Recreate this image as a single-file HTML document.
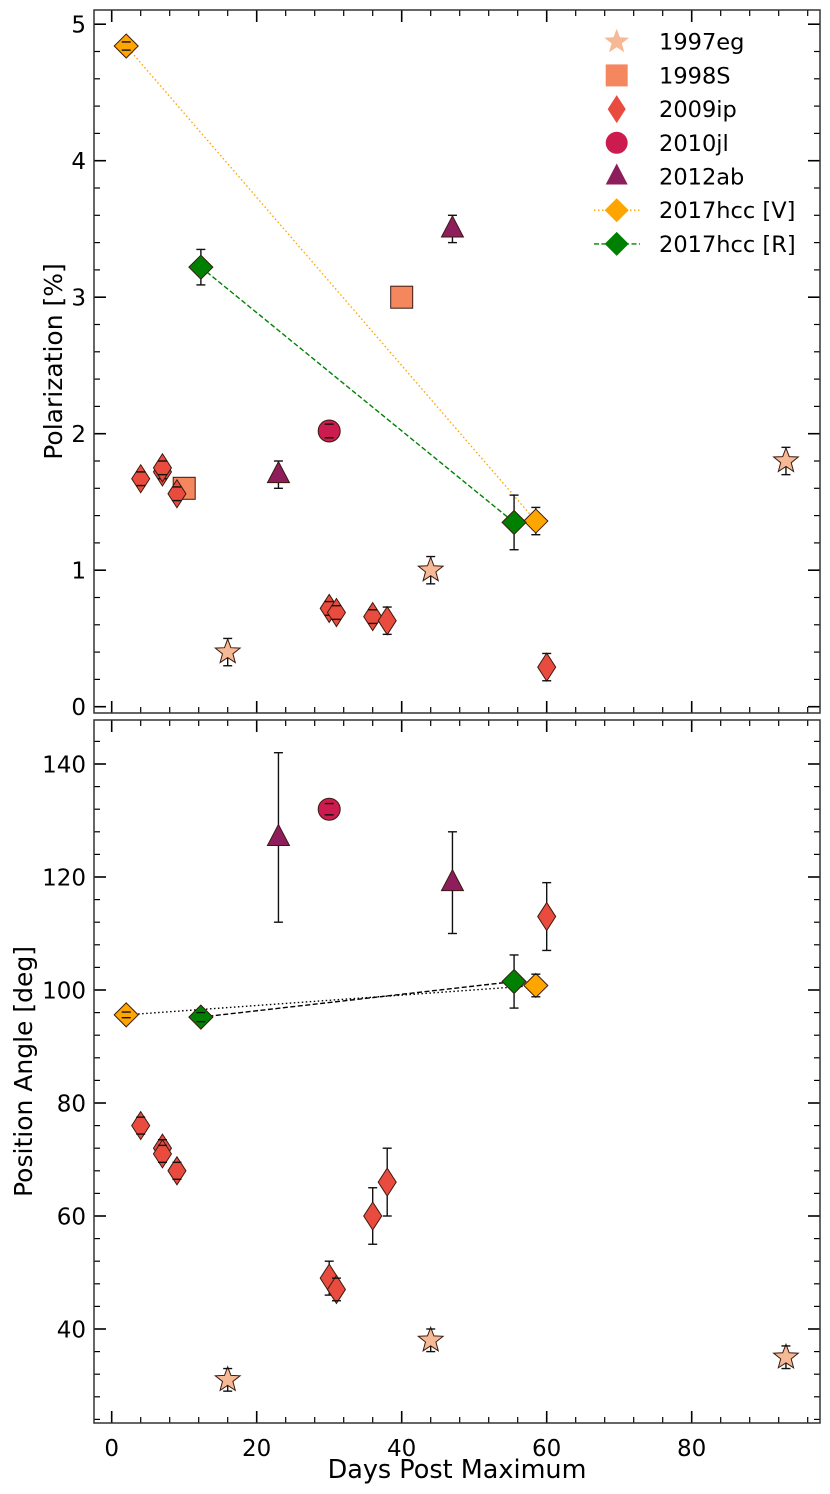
<!DOCTYPE html>
<html><head><meta charset="utf-8"><style>
html,body{margin:0;padding:0;background:#fff;}
svg{display:block;font-family:"DejaVu Sans","Liberation Sans",sans-serif;}
</style></head><body>
<svg id="chart" width="830" height="1494" viewBox="0 0 830 1494" xmlns="http://www.w3.org/2000/svg"></svg>
<script>
// ---- data ----
const sn97x=[16,44,93]; const sn97p=[0.4,1.0,1.8]; const sn97pe=[0.1,0.1,0.1]; const sn97a=[31,38,35]; const sn97ae=[2,2,2];
const sn98x=[10,40]; const sn98p=[1.6,3.0];
const sn09x=[4,7,7,9,30,31,36,38,60];
const sn09p=[1.67,1.72,1.75,1.56,0.72,0.69,0.66,0.63,0.29];
const sn09pe=[0.05,0.05,0.05,0.05,0.05,0.05,0.05,0.1,0.1];
const sn09a=[76,72,71,68,49,47,60,66,113];
const sn09ae=[1.5,1.5,1.5,1.5,3,2,5,6,6];
const sn10x=[30]; const sn10p=[2.02]; const sn10pe=[0.05]; const sn10a=[132]; const sn10ae=[1];
const sn12x=[23,47]; const sn12p=[1.7,3.5]; const sn12pe=[0.1,0.1]; const sn12a=[127,119]; const sn12ae=[15,9];
const vX=[2,58.5]; const vP=[4.84,1.36]; const vPe=[0.03,0.1]; const vA=[95.6,100.8]; const vAe=[0.5,2];
const rX=[12.3,55.5]; const rP=[3.22,1.35]; const rPe=[0.13,0.2]; const rA=[95.2,101.5]; const rAe=[0.8,4.7];
const xTicks=[0,20,40,60,80]; const pTicks=[0,1,2,3,4,5]; const aTicks=[40,60,80,100,120,140];
const legendNames=["1997eg","1998S","2009ip","2010jl","2012ab","2017hcc [V]","2017hcc [R]"];

const C={s97:"#f6b995",s98:"#f4875e",s09:"#e94c3f",s10:"#cb1b4f",s12:"#8e1d5c",v:"#ffa500",r:"#008000"};
const NS="http://www.w3.org/2000/svg";
const svg=document.getElementById('chart');
const L=94,R=820;
const X=v=>111.7+v*7.25;
const PY=v=>706.7-v*136.5;
const AY=v=>1329-(v-40)*5.65;
function el(tag,attrs,parent){const e=document.createElementNS(NS,tag);for(const k in attrs)e.setAttribute(k,attrs[k]);(parent||svg).appendChild(e);return e;}

function panel(top,bot,Y,ticks,minorStep,lo,hi,label,name,labX){
  const g=el('g',{});
  
  
  for(let v=0;v<=96;v+=4){
    const maj=v%20===0;const len=maj?12:6;const x=X(v);
    el('line',{x1:x,x2:x,y1:bot,y2:bot-len,stroke:'#000','stroke-width':maj?1.6:1.2},g);
    el('line',{x1:x,x2:x,y1:top,y2:top+len,stroke:'#000','stroke-width':maj?1.6:1.2},g);
  }
  for(let v=lo;v<=hi+1e-9;v+=minorStep){
    const vv=Math.round(v*100)/100;
    const maj=ticks.some(t=>Math.abs(t-vv)<1e-6);const len=maj?12:6;const y=Y(vv);
    if(y<top||y>bot)continue;
    el('line',{x1:L,x2:L+len,y1:y,y2:y,stroke:'#000','stroke-width':maj?1.6:1.2},g);
    el('line',{x1:R,x2:R-len,y1:y,y2:y,stroke:'#000','stroke-width':maj?1.6:1.2},g);
  }
  ticks.forEach(t=>{
    const tx=el('text',{x:L-8,y:Y(t)+8.5,'text-anchor':'end','font-size':23},g);
    
    
    tx.textContent=t;
  });
  el('rect',{x:L,y:top,width:R-L,height:bot-top,fill:'none',stroke:'#333','stroke-width':1.5},g);
  const yl=el('text',{x:0,y:0,'text-anchor':'middle','font-size':25,transform:`translate(${labX},${(top+bot)/2}) rotate(-90)`},g);
  
  
  yl.textContent=label;
}
panel(10,713,PY,pTicks,0.2,0,5.2,'Polarization [%]','top-panel',62);
panel(720,1423,AY,aTicks,4,24,148,'Position Angle [deg]','bottom-panel',32);
xTicks.forEach(t=>{
  const tx=el('text',{x:X(t),y:1456,'text-anchor':'middle','font-size':23});
  
  
  tx.textContent=t;
});
const xl=el('text',{x:457,y:1478,'text-anchor':'middle','font-size':25.5});


xl.textContent='Days Post Maximum';

function marker(shape,cx,cy,fill,edge,parent){
  const a={fill:fill};if(edge){a.stroke='#3a1a10';a['stroke-width']=1;}
  let e;
  if(shape==='star'){
    const pts=[];for(let i=0;i<10;i++){const r=i%2?5.5:13;const ang=-Math.PI/2+i*Math.PI/5;pts.push((cx+r*Math.cos(ang)).toFixed(1)+','+(cy+r*Math.sin(ang)).toFixed(1));}
    e=el('polygon',Object.assign({points:pts.join(' ')},a),parent);
  }else if(shape==='square'){e=el('rect',Object.assign({x:cx-11,y:cy-11,width:22,height:22},a),parent);}
  else if(shape==='thin'){e=el('polygon',Object.assign({points:`${cx},${cy-14} ${cx+9},${cy} ${cx},${cy+14} ${cx-9},${cy}`},a),parent);}
  else if(shape==='circle'){e=el('circle',Object.assign({cx:cx,cy:cy,r:11},a),parent);}
  else if(shape==='tri'){e=el('polygon',Object.assign({points:`${cx},${cy-13} ${cx+11},${cy+8} ${cx-11},${cy+8}`},a),parent);}
  else if(shape==='dia'){e=el('polygon',Object.assign({points:`${cx},${cy-12} ${cx+12},${cy} ${cx},${cy+12} ${cx-12},${cy}`},a),parent);}
  return e;
}
function series(xs,ys,es,Y,shape,color,name){
  const g=el('g',{});
  
  
  xs.forEach((x,i)=>{
    const cx=X(x);
    if(es){
      const y1=Y(ys[i]+es[i]),y2=Y(ys[i]-es[i]);
      el('line',{x1:cx,x2:cx,y1:y1,y2:y2,stroke:'#111','stroke-width':1.4},g);
    }
    const m=marker(shape,cx,Y(ys[i]),color,true,g);
    
    
    if(es){
      const y1=Y(ys[i]+es[i]),y2=Y(ys[i]-es[i]);
      el('line',{x1:cx-4.5,x2:cx+4.5,y1:y1,y2:y1,stroke:'#111','stroke-width':1.4},g);
      el('line',{x1:cx-4.5,x2:cx+4.5,y1:y2,y2:y2,stroke:'#111','stroke-width':1.4},g);
    }
  });
}
function line(xs,ys,Y,color,dash,name){
  const l=el('polyline',{points:xs.map((x,i)=>X(x)+','+Y(ys[i])).join(' '),fill:'none',stroke:color,'stroke-width':1.4,'stroke-dasharray':dash});
  
  
}
line(vX,vP,PY,C.v,'1.5 2.5','line-2017hcc-v');
line(rX,rP,PY,C.r,'5 2.5','line-2017hcc-r');
series(sn97x,sn97p,sn97pe,PY,'star',C.s97,'pol-1997eg');
series(sn98x,sn98p,null,PY,'square',C.s98,'pol-1998s');
series(sn09x,sn09p,sn09pe,PY,'thin',C.s09,'pol-2009ip');
series(sn10x,sn10p,sn10pe,PY,'circle',C.s10,'pol-2010jl');
series(sn12x,sn12p,sn12pe,PY,'tri',C.s12,'pol-2012ab');
series(vX,vP,vPe,PY,'dia',C.v,'pol-2017hcc-v');
series(rX,rP,rPe,PY,'dia',C.r,'pol-2017hcc-r');
line(vX,vA,AY,'#000','1.5 2.5','pa-line-2017hcc-v');
line(rX,rA,AY,'#000','5 2.5','pa-line-2017hcc-r');
series(sn97x,sn97a,sn97ae,AY,'star',C.s97,'pa-1997eg');
series(sn09x,sn09a,sn09ae,AY,'thin',C.s09,'pa-2009ip');
series(sn10x,sn10a,sn10ae,AY,'circle',C.s10,'pa-2010jl');
series(sn12x,sn12a,sn12ae,AY,'tri',C.s12,'pa-2012ab');
series(vX,vA,vAe,AY,'dia',C.v,'pa-2017hcc-v');
series(rX,rA,rAe,AY,'dia',C.r,'pa-2017hcc-r');
const shapes=['star','square','thin','circle','tri','dia','dia'];
const cols=[C.s97,C.s98,C.s09,C.s10,C.s12,C.v,C.r];
legendNames.forEach((n,i)=>{
  const y=41.7+i*33.7;
  const g=el('g',{});
  
  
  if(i===5)el('line',{x1:594,x2:640,y1:y,y2:y,stroke:C.v,'stroke-width':1.4,'stroke-dasharray':'1.5 2.5'},g);
  if(i===6)el('line',{x1:594,x2:640,y1:y,y2:y,stroke:C.r,'stroke-width':1.4,'stroke-dasharray':'5 2.5'},g);
  marker(shapes[i],616.7,y,cols[i],false,g);
  const t=el('text',{x:659,y:y+8,'font-size':22.5},g);
  t.textContent=n;
});
</script>
</body></html>
